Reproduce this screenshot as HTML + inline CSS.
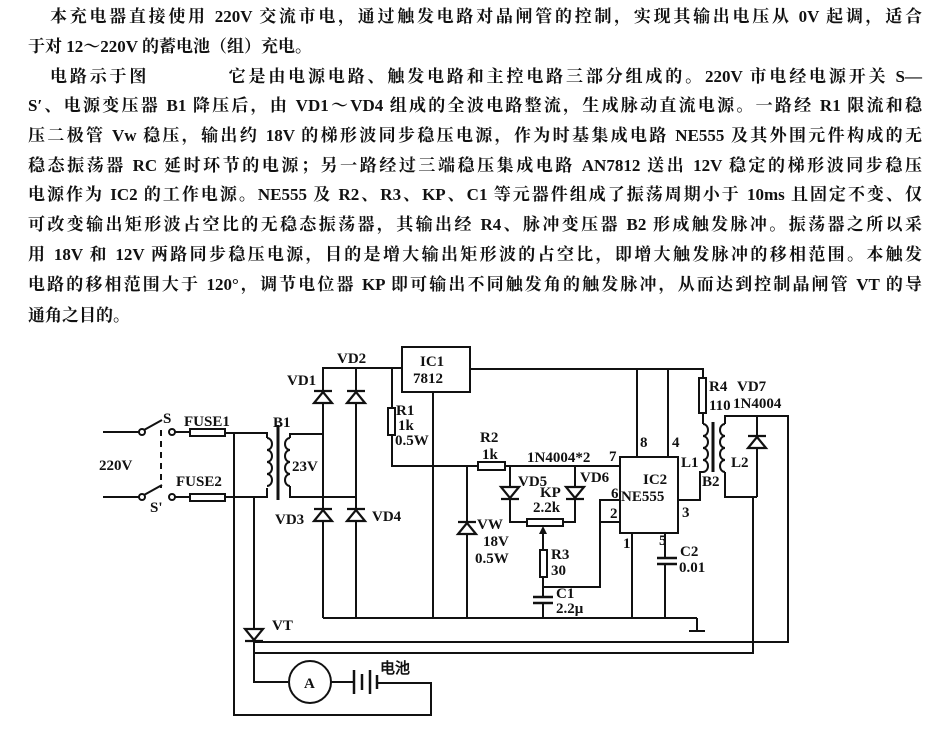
<!DOCTYPE html>
<html><head><meta charset="utf-8"><style>
html,body{margin:0;padding:0;background:#fff;width:945px;height:729px;overflow:hidden;position:relative}
.t{position:absolute;font-family:"Liberation Serif","Noto Serif CJK SC",serif;font-weight:bold;font-size:17px;line-height:20px;color:#111;text-align:justify;text-align-last:justify;white-space:nowrap}
.n{text-align:left;text-align-last:left}
svg{position:absolute;left:0;top:0}
svg text{font-family:"Liberation Serif",serif;font-weight:bold;font-size:15px;fill:#111}
</style></head><body>
<div class="t" style="left:50px;top:7px;width:872px">本充电器直接使用 220V 交流市电，通过触发电路对晶闸管的控制，实现其输出电压从 0V 起调，适合</div>
<div class="t n" style="left:28px;top:37px">于对 12～220V 的蓄电池（组）充电。</div>
<div class="t" style="left:50px;top:67px;width:872px">电路示于图　　　　它是由电源电路、触发电路和主控电路三部分组成的。220V 市电经电源开关 S—</div>
<div class="t" style="left:28px;top:96px;width:894px">S′、电源变压器 B1 降压后，由 VD1～VD4 组成的全波电路整流，生成脉动直流电源。一路经 R1 限流和稳</div>
<div class="t" style="left:28px;top:126px;width:894px">压二极管 Vw 稳压，输出约 18V 的梯形波同步稳压电源，作为时基集成电路 NE555 及其外围元件构成的无</div>
<div class="t" style="left:28px;top:156px;width:894px">稳态振荡器 RC 延时环节的电源；另一路经过三端稳压集成电路 AN7812 送出 12V 稳定的梯形波同步稳压</div>
<div class="t" style="left:28px;top:185px;width:894px">电源作为 IC2 的工作电源。NE555 及 R2、R3、KP、C1 等元器件组成了振荡周期小于 10ms 且固定不变、仅</div>
<div class="t" style="left:28px;top:215px;width:894px">可改变输出矩形波占空比的无稳态振荡器，其输出经 R4、脉冲变压器 B2 形成触发脉冲。振荡器之所以采</div>
<div class="t" style="left:28px;top:245px;width:894px">用 18V 和 12V 两路同步稳压电源，目的是增大输出矩形波的占空比，即增大触发脉冲的移相范围。本触发</div>
<div class="t" style="left:28px;top:275px;width:894px">电路的移相范围大于 120°，调节电位器 KP 即可输出不同触发角的触发脉冲，从而达到控制晶闸管 VT 的导</div>
<div class="t n" style="left:28px;top:306px">通角之目的。</div>

<svg width="945" height="729" viewBox="0 0 945 729">
<g stroke="#111" stroke-width="2" fill="none">
<line x1="103" y1="432" x2="139" y2="432"/><circle cx="142" cy="432" r="3"/>
<line x1="144" y1="430" x2="162" y2="420"/><circle cx="172" cy="432" r="3"/>
<line x1="175" y1="432" x2="190" y2="432"/>
<line x1="103" y1="497" x2="139" y2="497"/><circle cx="142" cy="497" r="3"/>
<line x1="144" y1="495" x2="162" y2="485"/><circle cx="172" cy="497" r="3"/>
<line x1="175" y1="497" x2="190" y2="497"/>
<line x1="161" y1="430" x2="161" y2="488" stroke-dasharray="6,5"/>
<rect x="190" y="429" width="35" height="7"/><rect x="190" y="494" width="35" height="7"/>
<polyline points="225,433 267,433 267,438"/>
<polyline points="225,497 267,497 267,488"/>
<polyline points="234,433 234,715 431,715 431,683 377,683"/>
<path d="M267,438 a5,6 0 0 1 0,12 a5,6 0 0 1 0,12 a5,6 0 0 1 0,12 a5,6 0 0 1 0,12"/>
<line x1="278" y1="425" x2="278" y2="500" stroke-width="3"/>
<path d="M290,438 a5,6 0 0 0 0,12 a5,6 0 0 0 0,12 a5,6 0 0 0 0,12 a5,6 0 0 0 0,12"/>
<polyline points="290,438 290,434 323,434"/>
<polyline points="290,486 290,497 356,497"/>
<polyline points="323,618 323,368 402,368"/>
<polyline points="356,618 356,368"/>
<line x1="323" y1="618" x2="697" y2="618"/>
<polyline points="697,618 697,630"/><line x1="689" y1="631" x2="705" y2="631"/>
<rect x="402" y="347" width="68" height="45"/>
<polyline points="470,369 703,369 703,378"/>
<line x1="433" y1="392" x2="433" y2="618"/>
<polyline points="392,368 392,408"/><rect x="388" y="408" width="7" height="27"/>
<polyline points="392,435 392,466 478,466"/>
<rect x="478" y="462" width="27" height="8"/>
<line x1="505" y1="466" x2="620" y2="466"/>
<line x1="467" y1="466" x2="467" y2="618"/>
<polyline points="510,466 510,522 527,522"/>
<polyline points="575,466 575,522 563,522"/>
<rect x="527" y="519" width="36" height="7"/>
<line x1="543" y1="550" x2="543" y2="530"/>
<polyline points="543,577 543,597"/>
<rect x="540" y="550" width="7" height="27"/>
<polyline points="543,587 600,587 600,500 620,500"/>
<line x1="600" y1="522" x2="620" y2="522"/>
<line x1="533" y1="597" x2="553" y2="597" stroke-width="2.5"/>
<line x1="533" y1="603" x2="553" y2="603" stroke-width="2.5"/>
<line x1="543" y1="603" x2="543" y2="618"/>
<rect x="620" y="457" width="58" height="76"/>
<line x1="637" y1="369" x2="637" y2="457"/>
<line x1="668" y1="369" x2="668" y2="457"/>
<line x1="632" y1="533" x2="632" y2="618"/>
<line x1="665" y1="533" x2="665" y2="558"/>
<line x1="657" y1="558" x2="677" y2="558" stroke-width="2.5"/>
<line x1="657" y1="564" x2="677" y2="564" stroke-width="2.5"/>
<line x1="665" y1="564" x2="665" y2="618"/>
<polyline points="678,500 700,500 700,472 703,472"/>
<rect x="699" y="378" width="7" height="35"/>
<line x1="703" y1="413" x2="703" y2="424"/>
<path d="M703,424 a5,6 0 0 1 0,12 a5,6 0 0 1 0,12 a5,6 0 0 1 0,12 a5,6 0 0 1 0,12"/>
<line x1="713" y1="422" x2="713" y2="472" stroke-width="3"/>
<path d="M725,424 a5,6 0 0 0 0,12 a5,6 0 0 0 0,12 a5,6 0 0 0 0,12 a5,6 0 0 0 0,12"/>
<polyline points="725,424 725,416 788,416 788,642 254,642"/>
<polyline points="725,472 725,497 753,497 753,653 254,653"/>
<line x1="757" y1="416" x2="757" y2="497"/>
<line x1="753" y1="497" x2="757" y2="497"/>
<polyline points="254,497 254,682 288,682"/>
<circle cx="310" cy="682" r="21"/>
<line x1="331" y1="682" x2="353" y2="682"/>
<line x1="354" y1="670" x2="354" y2="694" stroke-width="2.5"/>
<line x1="362" y1="674" x2="362" y2="690" stroke-width="2.5"/>
<line x1="370" y1="670" x2="370" y2="694" stroke-width="2.5"/>
<line x1="377" y1="675" x2="377" y2="689" stroke-width="2.5"/>
</g>
<g stroke="#111" stroke-width="2.2" fill="#fff">
<path d="M314,403 L332,403 L323,392 Z M314,391 H332"/>
<path d="M347,403 L365,403 L356,392 Z M347,391 H365"/>
<path d="M314,521 L332,521 L323,510 Z M314,509 H332"/>
<path d="M347,521 L365,521 L356,510 Z M347,509 H365"/>
<path d="M458,534 L476,534 L467,523 Z M458,522 H476"/>
<path d="M501,487 L519,487 L510,498 Z M501,499 H519"/>
<path d="M566,487 L584,487 L575,498 Z M566,499 H584"/>
<path d="M748,448 L766,448 L757,437 Z M748,436 H766"/>
<path d="M245,629 L263,629 L254,640 Z M245,641 H263"/>
</g>
<path d="M539,534 L547,534 L543,526 Z" fill="#111"/>
<text x="163" y="423" font-size="14">S</text>
<text x="150" y="512" font-size="14">S'</text>
<text x="99" y="470" font-size="15">220V</text>
<text x="184" y="426" font-size="14">FUSE1</text>
<text x="176" y="486" font-size="14">FUSE2</text>
<text x="273" y="427">B1</text>
<text x="292" y="471">23V</text>
<text x="287" y="385">VD1</text>
<text x="337" y="363">VD2</text>
<text x="275" y="524">VD3</text>
<text x="372" y="521">VD4</text>
<text x="420" y="366" font-size="15">IC1</text>
<text x="413" y="383" font-size="15">7812</text>
<text x="396" y="415">R1</text>
<text x="398" y="430">1k</text>
<text x="395" y="445">0.5W</text>
<text x="480" y="442">R2</text>
<text x="482" y="459">1k</text>
<text x="477" y="529">VW</text>
<text x="483" y="546">18V</text>
<text x="475" y="563">0.5W</text>
<text x="527" y="462">1N4004*2</text>
<text x="609" y="461">7</text>
<text x="518" y="486">VD5</text>
<text x="540" y="497">KP</text>
<text x="533" y="512">2.2k</text>
<text x="580" y="482">VD6</text>
<text x="611" y="498">6</text>
<text x="610" y="518">2</text>
<text x="551" y="559">R3</text>
<text x="551" y="575">30</text>
<text x="556" y="598">C1</text>
<text x="556" y="613">2.2μ</text>
<text x="643" y="484">IC2</text>
<text x="621" y="501">NE555</text>
<text x="640" y="447">8</text>
<text x="672" y="447">4</text>
<text x="623" y="548">1</text>
<text x="659" y="545">5</text>
<text x="682" y="517">3</text>
<text x="680" y="556">C2</text>
<text x="679" y="572">0.01</text>
<text x="709" y="391" font-size="14">R4</text>
<text x="709" y="410" font-size="14">110</text>
<text x="737" y="391" font-size="15">VD7</text>
<text x="733" y="408" font-size="14">1N4004</text>
<text x="681" y="467">L1</text>
<text x="731" y="467">L2</text>
<text x="702" y="486">B2</text>
<text x="272" y="630">VT</text>
<text x="304" y="688" font-size="15">A</text>
<text x="380" y="673" font-family="Noto Sans CJK SC,sans-serif" font-size="16">电池</text>
</svg>
</body></html>
